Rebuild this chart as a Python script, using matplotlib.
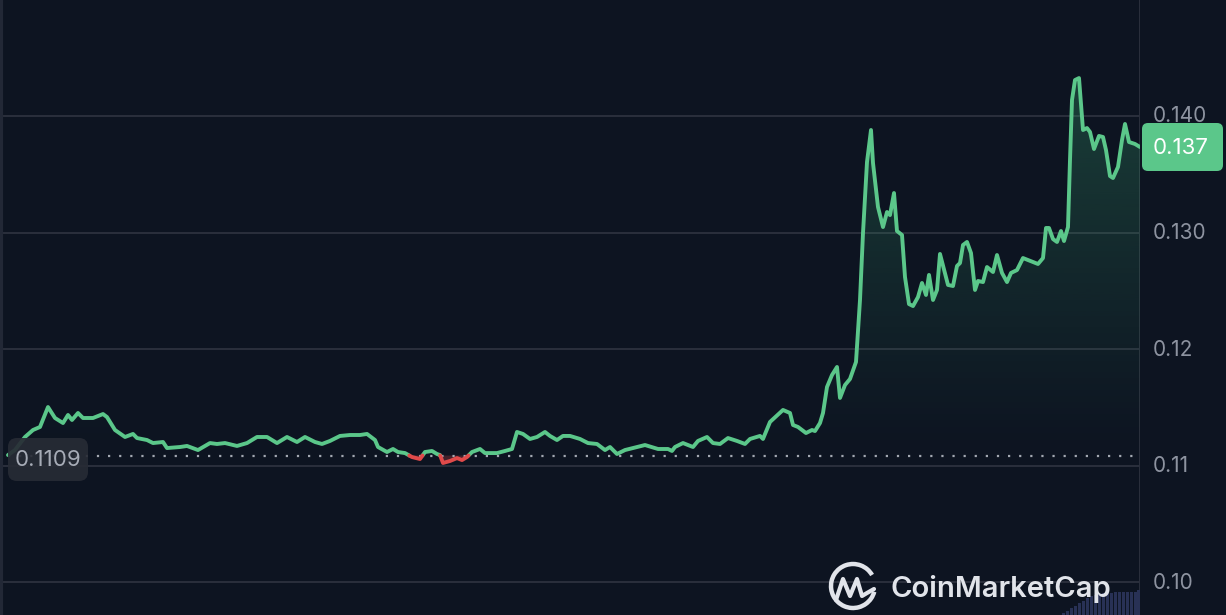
import matplotlib.pyplot as plt
import numpy as np
from matplotlib.patches import FancyBboxPatch, Arc

# Price series (time in minutes from start of window, price in USD)
minutes = [8, 15, 25, 33, 40, 48, 55, 63, 68, 72, 78, 83, 93, 103, 107, 115, 125, 133, 137, 147,
           153, 163, 167, 180, 187, 198, 210, 217, 225, 237, 247, 257, 267, 277, 287, 297, 305, 315,
           322, 330, 340, 350, 360, 367, 375, 378, 387, 393, 398, 405, 412, 420, 425, 432, 437, 440,
           443, 450, 457, 462, 467, 472, 480, 485, 490, 497, 505, 512, 517, 523, 530, 537, 545, 550,
           557, 563, 570, 580, 588, 597, 605, 610, 617, 625, 633, 645, 658, 668, 672, 675, 683, 693,
           698, 707, 713, 720, 728, 737, 745, 750, 760, 763, 770, 783, 790, 793, 798, 806, 812, 815,
           820, 823, 827, 832, 837, 840, 845, 850, 856, 860, 863, 867, 871, 873, 878, 883, 887, 890,
           894, 897, 902, 905, 909, 913, 918, 922, 926, 929, 933, 937, 940, 948, 953, 957, 960, 963,
           967, 971, 975, 978, 983, 987, 993, 997, 1002, 1007, 1011, 1017, 1023, 1033, 1038, 1043,
           1046, 1049, 1053, 1057, 1061, 1064, 1068, 1070, 1072, 1075, 1079, 1083, 1087, 1090, 1094,
           1099, 1103, 1106, 1110, 1113, 1118, 1122, 1125, 1129, 1135, 1140]
price = [0.11094, 0.11137, 0.11249, 0.11309, 0.11335, 0.11506, 0.11412, 0.11369, 0.11438, 0.11395,
         0.11455, 0.11412, 0.11412, 0.11446, 0.11420, 0.11309, 0.11249, 0.11275, 0.11240, 0.11223,
         0.11197, 0.11206, 0.11154, 0.11163, 0.11172, 0.11137, 0.11197, 0.11189, 0.11197, 0.11172,
         0.11197, 0.11249, 0.11249, 0.11197, 0.11249, 0.11206, 0.11249, 0.11206, 0.11189, 0.11215,
         0.11258, 0.11266, 0.11266, 0.11275, 0.11223, 0.11163, 0.11120, 0.11146, 0.11120, 0.11111,
         0.11077, 0.11060, 0.11120, 0.11129, 0.11103, 0.11094, 0.11026, 0.11043, 0.11068, 0.11051,
         0.11077, 0.11120, 0.11146, 0.11111, 0.11111, 0.11111, 0.11129, 0.11146, 0.11292, 0.11275,
         0.11232, 0.11249, 0.11292, 0.11258, 0.11223, 0.11258, 0.11258, 0.11232, 0.11197, 0.11189,
         0.11137, 0.11163, 0.11103, 0.11137, 0.11154, 0.11180, 0.11146, 0.11146, 0.11129, 0.11163,
         0.11197, 0.11163, 0.11215, 0.11249, 0.11197, 0.11189, 0.11240, 0.11215, 0.11189, 0.11232,
         0.11258, 0.11232, 0.11378, 0.11481, 0.11455, 0.11352, 0.11335, 0.11283, 0.11309, 0.11300,
         0.11369, 0.11455, 0.11678, 0.11781, 0.11850, 0.11584, 0.11695, 0.11747, 0.11893, 0.12425,
         0.13000, 0.13609, 0.13884, 0.13601, 0.13223, 0.13051, 0.13180, 0.13154, 0.13343, 0.13017,
         0.12983, 0.12622, 0.12390, 0.12373, 0.12450, 0.12571, 0.12468, 0.12640, 0.12425, 0.12511,
         0.12820, 0.12554, 0.12545, 0.12717, 0.12742, 0.12897, 0.12923, 0.12828, 0.12511, 0.12588,
         0.12579, 0.12708, 0.12665, 0.12811, 0.12657, 0.12579, 0.12657, 0.12682, 0.12785, 0.12751,
         0.12734, 0.12785, 0.13043, 0.13043, 0.12948, 0.12923, 0.13017, 0.12931, 0.13051, 0.13627,
         0.14142, 0.14313, 0.14330, 0.13884, 0.13901, 0.13867, 0.13721, 0.13833, 0.13824, 0.13712,
         0.13489, 0.13472, 0.13567, 0.13798, 0.13936, 0.13781, 0.13764, 0.13738]

# volume bars at the end of the window
vol_minutes = [1063, 1067, 1071, 1075, 1079, 1083, 1087, 1091, 1095, 1099, 1103, 1107, 1111, 1115,
               1119, 1123, 1127, 1131, 1135, 1138]
volume = [0.08, 0.18, 0.28, 0.38, 0.48, 0.58, 0.68, 0.76, 0.82, 0.86, 0.88, 0.90, 0.91, 0.92,
          0.93, 0.93, 0.94, 0.94, 0.95, 1.0]

open_price = 0.1109
last_price = 0.137
ticks = [0.10, 0.11, 0.12, 0.13, 0.14]
tick_labels = ['0.10', '0.11', '0.12', '0.130', '0.140']

bg = '#0d1421'
green = '#5bc78a'
red = '#e04a4a'
grid_c = '#2a2f3c'
label_c = '#8d93a0'

plt.rcParams['font.family'] = ['Inter', 'DejaVu Sans']

fig = plt.figure(figsize=(12.26, 6.15), dpi=100, facecolor=bg)
ax = fig.add_axes([0, 0, 1140 / 1226, 1])
ax.set_facecolor(bg)
ax.set_xlim(0, 1140)
ax.set_ylim(0.09721, 0.15)
for s in ax.spines.values():
    s.set_visible(False)
ax.set_xticks([])
ax.set_yticks([])

for t in ticks:
    ax.axhline(t, color=grid_c, lw=1.4, zorder=1)
ax.axvline(1, color='#222836', lw=3, zorder=1)
ax.axvline(1139.5, color=grid_c, lw=1.4, zorder=1)

x = np.array(minutes, float)
p = np.array(price, float)

# insert crossing points with the open price so colours switch cleanly
xs, ps = [x[0]], [p[0]]
for i in range(1, len(x)):
    a, b = p[i - 1] - open_price, p[i] - open_price
    if a * b < 0:
        f = a / (a - b)
        xs.append(x[i - 1] + f * (x[i] - x[i - 1]))
        ps.append(open_price)
    xs.append(x[i])
    ps.append(p[i])
xs = np.array(xs)
ps = np.array(ps)

# gradient fill between line and open price
top = 0.145
grad = np.zeros((256, 1, 4))
grad[:, 0, :3] = np.array([0x3f, 0xb5, 0x7a]) / 255
grad[:, 0, 3] = np.linspace(0.32, 0.0, 256) ** 1.1
img = ax.imshow(grad, extent=[xs[0], xs[-1], open_price, top], origin='upper',
                aspect='auto', zorder=2)
poly = ax.fill_between(xs, np.maximum(ps, open_price), open_price, color='none', lw=0)
clip = poly.get_paths()[0]
img.set_clip_path(clip, transform=ax.transData)
ax.fill_between(xs, ps, open_price, where=ps <= open_price, color=red, alpha=0.25, lw=0, zorder=2)

ax.plot(xs, np.where(ps >= open_price, ps, np.nan), color=green, lw=2.8,
        solid_joinstyle='round', solid_capstyle='round', zorder=4)
ax.plot(xs, np.where(ps <= open_price, ps, np.nan), color=red, lw=2.8,
        solid_joinstyle='round', solid_capstyle='round', zorder=4)

ax.axhline(open_price, xmin=8 / 1140, color='#a3a8b2', lw=1.6, ls=(0, (1, 4)), zorder=3)

# volume bars
vax = fig.add_axes([0, 0, 1140 / 1226, 1], facecolor='none')
vax.set_xlim(0, 1140)
vax.set_ylim(0, 25)
vax.bar(vol_minutes, volume, width=3, color='#283155', zorder=1)
vax.axis('off')

# overlay in pixel coordinates for labels and watermark
ov = fig.add_axes([0, 0, 1, 1], facecolor='none')
ov.set_xlim(0, 1226)
ov.set_ylim(615, 0)
ov.axis('off')

def price_to_px(v):
    return 116.5 + (0.14 - v) * 11650

for t, lab in zip(ticks, tick_labels):
    ov.text(1153, price_to_px(t), lab, color=label_c, fontsize=15, va='center', ha='left')

ov.add_patch(FancyBboxPatch((8, 438), 80, 43, boxstyle='round,pad=0,rounding_size=9',
                            fc='#272b35', ec='none', alpha=0.92, zorder=5))
ov.text(48, 460, f'{open_price:.4f}', color='#a6abb6', fontsize=16, ha='center',
        va='center', zorder=6)

ov.add_patch(FancyBboxPatch((1142, 123), 81, 48, boxstyle='round,pad=0,rounding_size=6',
                            fc=green, ec='none', zorder=5))
ov.text(1181, 148, f'{last_price:.3f}', color='white', fontsize=16, ha='center',
        va='center', zorder=6)

# CoinMarketCap watermark
wm = '#e1e4ea'
ov.add_patch(Arc((853, 586), 44, 44, theta1=15, theta2=330, color=wm, lw=3.2, zorder=6))
ov.plot([836, 843, 850, 857, 862, 867, 874], [600, 579, 596, 579, 596, 593, 589],
        color=wm, lw=3.0, solid_joinstyle='round', solid_capstyle='round', zorder=6)
ov.text(891, 589, 'CoinMarketCap', color=wm, fontsize=21, fontweight='semibold',
        ha='left', va='center', zorder=6)

fig.savefig('out.png', dpi=100, facecolor=bg)
